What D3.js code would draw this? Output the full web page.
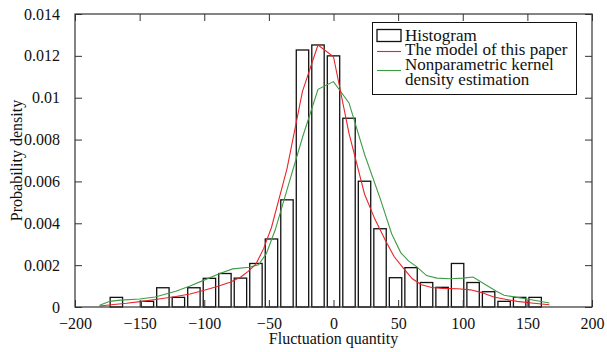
<html lang="en">
<head>
<meta charset="UTF-8">
<title>Fluctuation quantity histogram</title>
<script src="https://cdn.jsdelivr.net/npm/d3@7"></script>
<style>
  body { margin: 0; background: #fff; }
  text { font-family: "Liberation Serif", "Times New Roman", serif; }
</style>
</head>
<body>
<svg id="svg"></svg>
<script>
var WIDTH = 607;
var HEIGHT = 352;
var LEFT = 75, RIGHT = 592, TOP = 14, BOTTOM = 307;

// histogram bins (centre of each bin) and densities
var binCenters = [-168, -156, -144, -132, -120, -108, -96, -84, -72, -60, -48, -36, -24, -12,
                  0, 12, 24, 36, 48, 60, 72, 84, 96, 108, 120, 132, 144, 156];
var histValues = [0.00046, 0, 0.00027, 0.00092, 0.00046, 0.00092, 0.00137, 0.00160, 0.00138, 0.00208,
                  0.00325, 0.00512, 0.01228, 0.01252, 0.01200, 0.00902, 0.00601, 0.00374, 0.00140,
                  0.00188, 0.00117, 0.00094, 0.00208, 0.00117, 0.00073, 0.00027, 0.00046, 0.00046];
var binWidth = 12;

// model of this paper (red)
var modelX = [-181, -170, -160, -148, -135, -122, -111, -100, -90, -80, -72, -66, -60, -54, -48, -36,
              -24, -12, 0, 12, 24, 32, 40, 47, 54, 61, 68, 76, 84, 96, 106, 114, 124, 134, 142, 155, 167];
var modelY = [0.00005, 0.00012, 0.00018, 0.00027, 0.00038, 0.00050, 0.00062, 0.00080, 0.00098, 0.00118,
              0.00142, 0.00170, 0.00205, 0.00280, 0.00380, 0.00660, 0.01030, 0.01252, 0.01196, 0.00830,
              0.00540, 0.00420, 0.00320, 0.00240, 0.00186, 0.00135, 0.00106, 0.00093, 0.00089, 0.00087,
              0.00082, 0.00070, 0.00048, 0.00036, 0.00027, 0.00018, 0.00011];

// nonparametric kernel density estimation (green)
var kdeX = [-181, -173, -165, -150, -138, -122, -111, -101, -88, -78, -65, -58, -52, -45, -36, -24,
            -12, 0, 12, 24, 36, 45, 52, 58, 64, 72, 80, 90, 100, 108, 118, 126, 132, 142, 152, 167];
var kdeY = [0.00008, 0.00027, 0.00033, 0.00038, 0.00048, 0.00075, 0.00100, 0.00126, 0.00160, 0.00182,
            0.00190, 0.00202, 0.00255, 0.00370, 0.00560, 0.00810, 0.01040, 0.01077, 0.00975, 0.00730,
            0.00520, 0.00350, 0.00260, 0.00220, 0.00194, 0.00150, 0.00138, 0.00135, 0.00138, 0.00143,
            0.00105, 0.00075, 0.00056, 0.00046, 0.00036, 0.00019];

var xTicks = [-200, -150, -100, -50, 0, 50, 100, 150, 200];
var yTicks = [0, 0.002, 0.004, 0.006, 0.008, 0.01, 0.012, 0.014];
var yTickLabels = ["0", "0.002", "0.004", "0.006", "0.008", "0.01", "0.012", "0.014"];

var legendLabels = ["Histogram", "The model of this paper", "Nonparametric kernel", "density estimation"];

var RED = "#e8262a";
var GREEN = "#3f9c45";

var svg = d3.select("#svg")
            .attr("width", WIDTH)
            .attr("height", HEIGHT);

var xScale = d3.scaleLinear().domain([-200, 200]).range([LEFT, RIGHT]);
var yScale = d3.scaleLinear().domain([0, 0.014]).range([BOTTOM, TOP]);

// Bars
var barW = xScale(binWidth * 0.8) - xScale(0);
svg.append("g")
   .selectAll("rect")
   .data(binCenters.map(function(c, i){ return {x: c, v: histValues[i]}; })
                   .filter(function(d){ return d.v > 0; }))
   .enter()
   .append("rect")
   .attr("x", function(d){ return xScale(d.x) - barW / 2; })
   .attr("y", function(d){ return yScale(d.v); })
   .attr("width", barW)
   .attr("height", function(d){ return yScale(0) - yScale(d.v); })
   .attr("fill", "white")
   .attr("stroke", "#111")
   .attr("stroke-width", 1.3);

// Lines
var line = d3.line()
             .x(function(d){ return xScale(d[0]); })
             .y(function(d){ return yScale(d[1]); });

svg.append("path")
   .datum(kdeX.map(function(x, i){ return [x, kdeY[i]]; }))
   .attr("d", line)
   .attr("fill", "none")
   .attr("stroke", GREEN)
   .attr("stroke-width", 1.1);

svg.append("path")
   .datum(modelX.map(function(x, i){ return [x, modelY[i]]; }))
   .attr("d", line)
   .attr("fill", "none")
   .attr("stroke", RED)
   .attr("stroke-width", 1.1);

// Axes (box with inward ticks)
var TICK = 7;
var xAxisB = d3.axisBottom(xScale).tickValues(xTicks).tickSize(-TICK).tickPadding(TICK + 4)
               .tickFormat(function(d){ return d < 0 ? "\u2212" + Math.abs(d) : d; });
var xAxisT = d3.axisTop(xScale).tickValues(xTicks).tickSize(-TICK).tickFormat("");
var yAxisL = d3.axisLeft(yScale).tickValues(yTicks).tickSize(-TICK).tickPadding(TICK + 8)
               .tickFormat(function(d, i){ return yTickLabels[i]; });
var yAxisR = d3.axisRight(yScale).tickValues(yTicks).tickSize(-TICK).tickFormat("");

function styleAxis(g){
    g.select(".domain").remove();
    g.selectAll(".tick line").attr("stroke", "#333");
    g.selectAll("text").attr("font-size", 16).attr("fill", "#111")
     .attr("font-family", "'Liberation Serif', 'Times New Roman', serif");
}

svg.append("g").attr("transform", "translate(0," + BOTTOM + ")").call(xAxisB).call(styleAxis);
svg.append("g").attr("transform", "translate(0," + TOP + ")").call(xAxisT).call(styleAxis);
svg.append("g").attr("transform", "translate(" + LEFT + ",0)").call(yAxisL).call(styleAxis);
svg.append("g").attr("transform", "translate(" + RIGHT + ",0)").call(yAxisR).call(styleAxis);

svg.append("rect")
   .attr("x", LEFT).attr("y", TOP)
   .attr("width", RIGHT - LEFT).attr("height", BOTTOM - TOP)
   .attr("fill", "none").attr("stroke", "#333").attr("stroke-width", 1.2);

// Axis titles
svg.append("text")
   .attr("x", (LEFT + RIGHT) / 2).attr("y", 344)
   .attr("text-anchor", "middle").attr("font-size", 16).attr("fill", "#111")
   .text("Fluctuation quantity");

svg.append("text")
   .attr("transform", "translate(22," + ((TOP + BOTTOM) / 2) + ") rotate(-90)")
   .attr("text-anchor", "middle").attr("font-size", 16).attr("fill", "#111")
   .text("Probability density");

// Legend
var lg = svg.append("g");
lg.append("rect")
  .attr("x", 372.5).attr("y", 22.5).attr("width", 204).attr("height", 72)
  .attr("fill", "white").attr("stroke", "#111").attr("stroke-width", 1);
lg.append("rect")
  .attr("x", 377).attr("y", 29.5).attr("width", 24).attr("height", 12)
  .attr("fill", "white").attr("stroke", "#111").attr("stroke-width", 1.3);
lg.append("line").attr("x1", 377).attr("x2", 401).attr("y1", 51.5).attr("y2", 51.5)
  .attr("stroke", RED).attr("stroke-width", 1.1);
lg.append("line").attr("x1", 377).attr("x2", 401).attr("y1", 70.5).attr("y2", 70.5)
  .attr("stroke", GREEN).attr("stroke-width", 1.1);
lg.selectAll("text.lab")
  .data(legendLabels)
  .enter()
  .append("text")
  .attr("class", "lab")
  .attr("x", 405)
  .attr("y", function(d, i){ return 40.5 + i * 14.7; })
  .attr("font-size", 17).attr("fill", "#111")
  .text(function(d){ return d; });
</script>
</body>
</html>
